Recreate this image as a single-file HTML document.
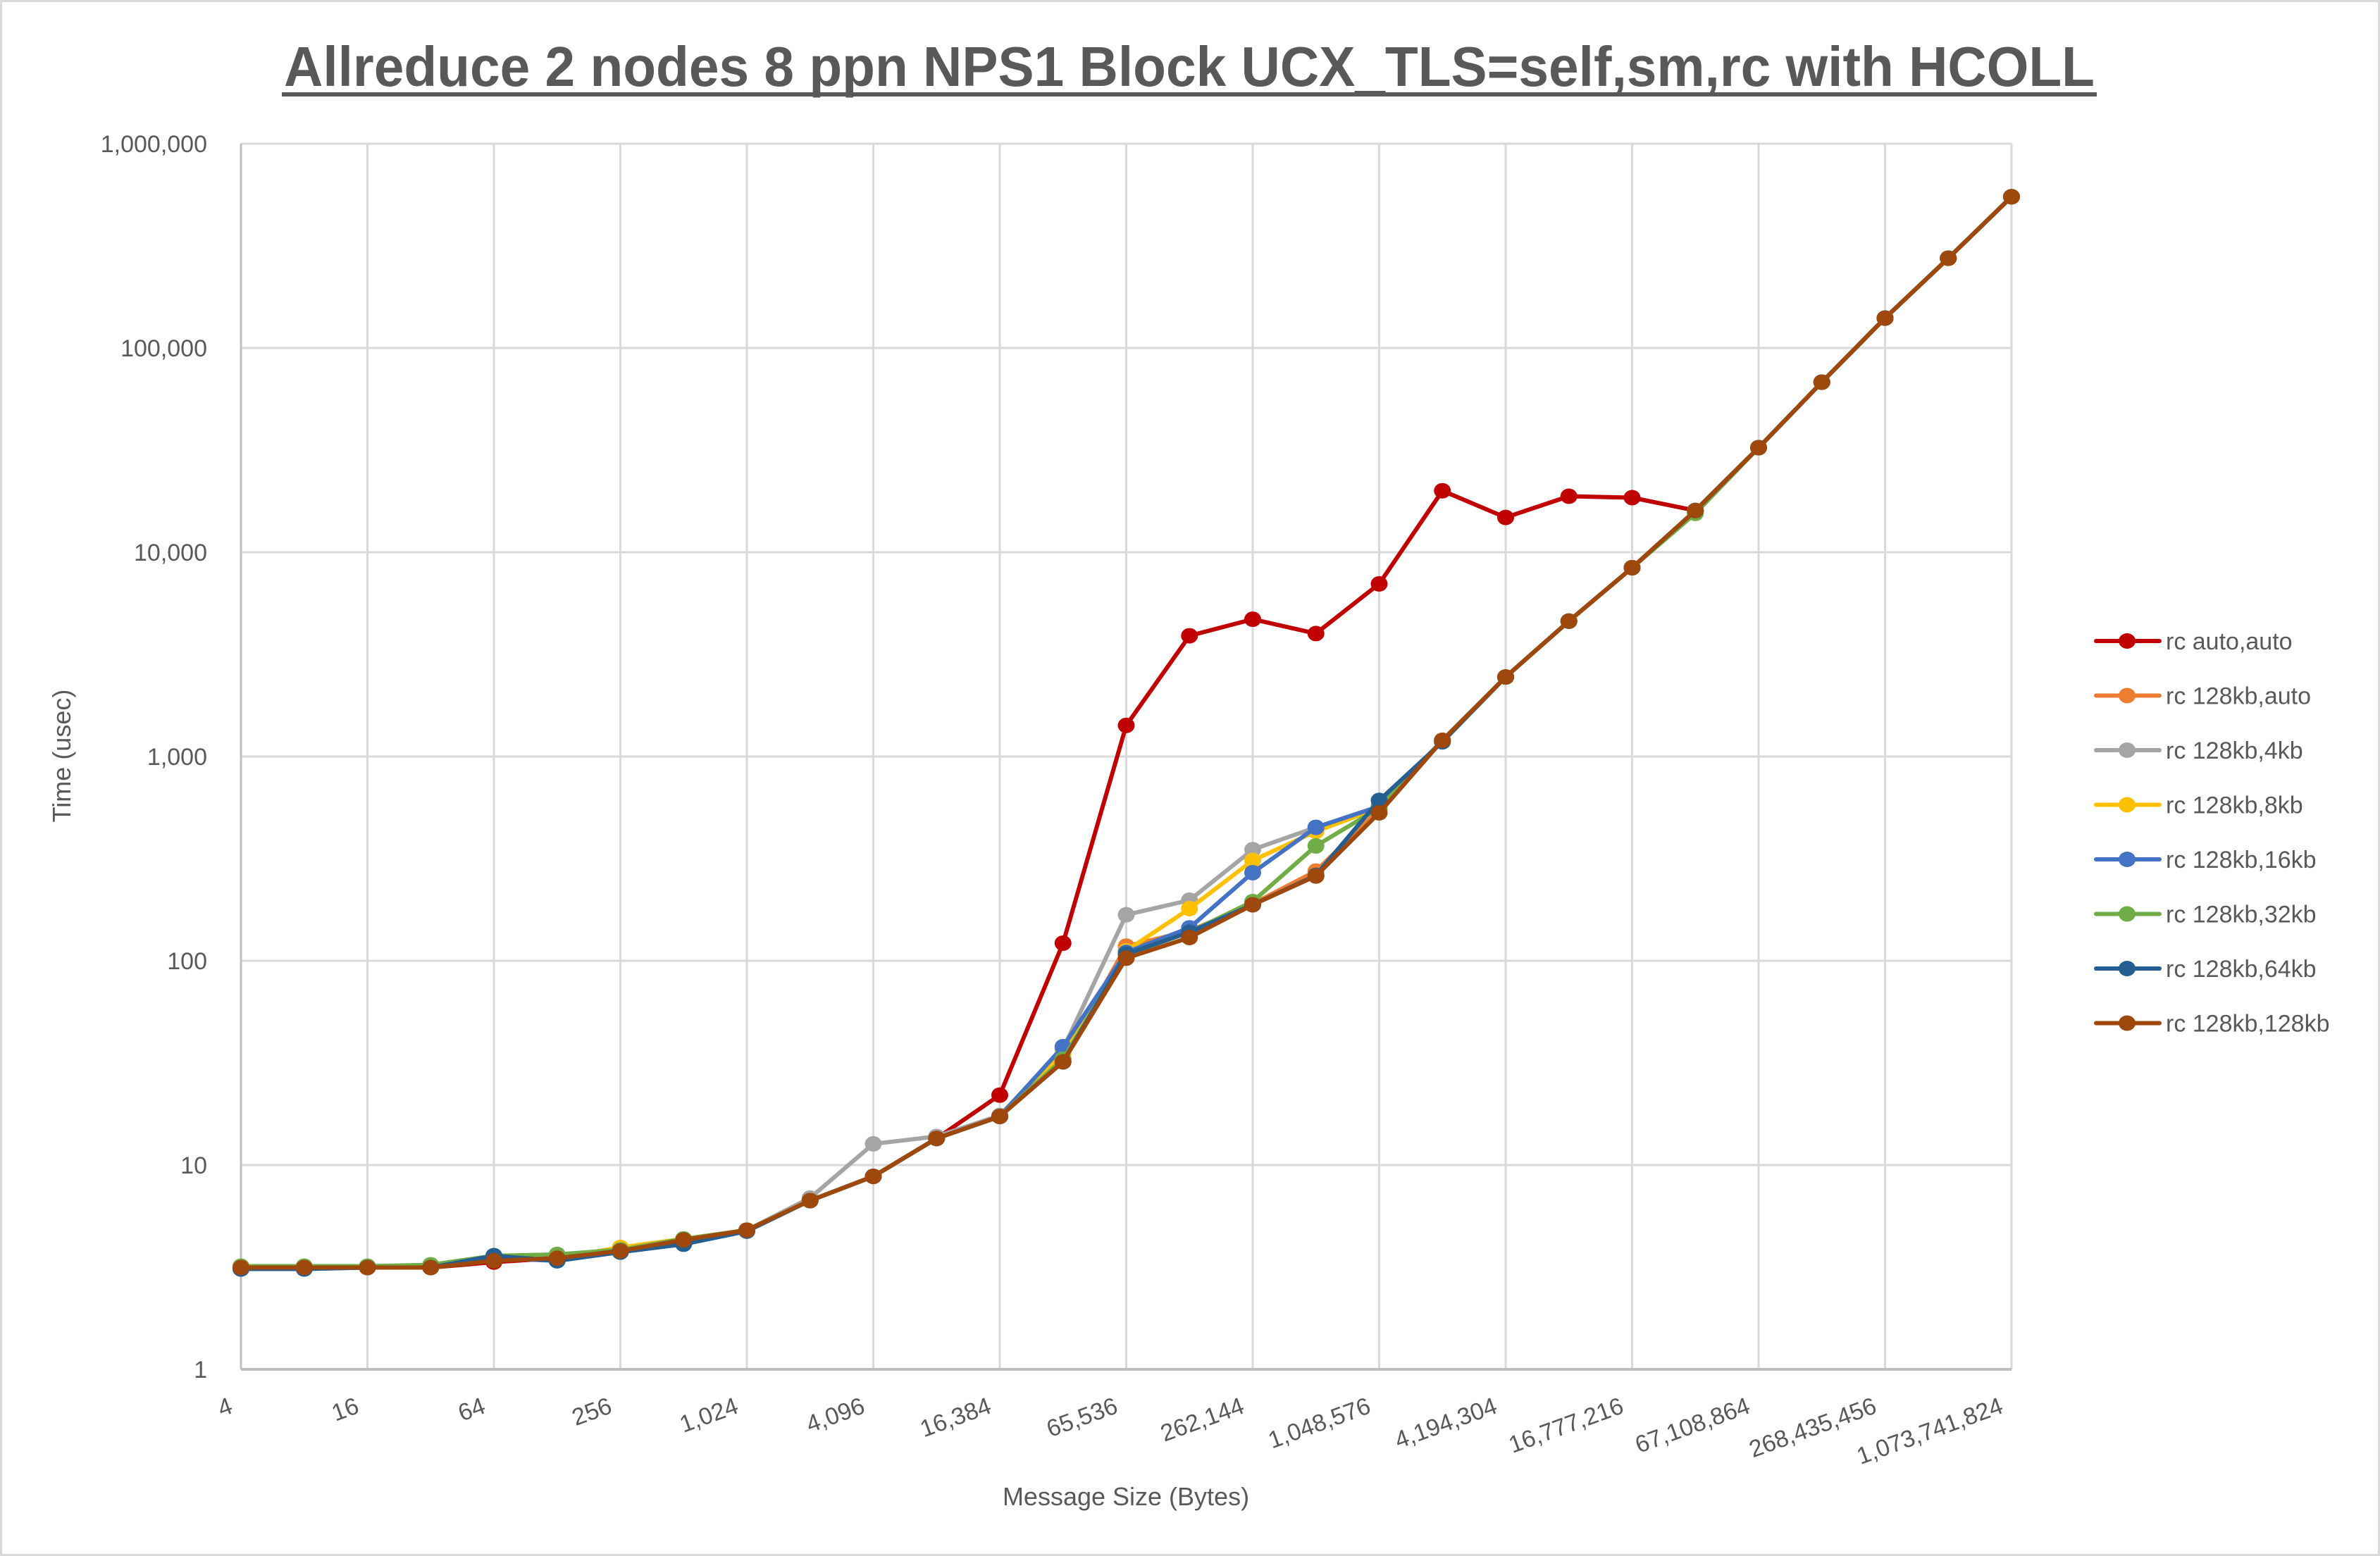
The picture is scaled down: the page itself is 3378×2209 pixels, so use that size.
<!DOCTYPE html>
<html><head><meta charset="utf-8"><style>
html,body{margin:0;padding:0;background:#fff}
svg{display:block;font-family:"Liberation Sans",sans-serif}
</style></head><body>
<svg id="chart" width="3378" height="2209" viewBox="0 0 3378 2209" xmlns="http://www.w3.org/2000/svg">
<rect x="1.5" y="1.5" width="3375" height="2206" fill="#fff" stroke="#d9d9d9" stroke-width="3"/>
<text x="1688" y="122" text-anchor="middle" font-size="80" font-weight="bold" fill="#595959" textLength="2570" lengthAdjust="spacingAndGlyphs">Allreduce 2 nodes 8 ppn NPS1 Block UCX_TLS=self,sm,rc with HCOLL</text>
<rect x="400" y="131" width="2576" height="6" fill="#595959"/>
<g id="grid"></g>
<g id="axes"></g>
<g id="series"></g>
<g id="legend"></g>
<text transform="translate(100,1073) rotate(-90)" text-anchor="middle" font-size="36" fill="#595959">Time (usec)</text>
<text x="1598" y="2137" text-anchor="middle" font-size="36" fill="#595959">Message Size (Bytes)</text>
</svg>
<script>
const xExp = [2,3,4,5,6,7,8,9,10,11,12,13,14,15,16,17,18,19,20,21,22,23,24,25,26,27,28,29,30];
const yTicks = [1,10,100,1000,10000,100000,1000000];
const yTickLabels = ["1","10","100","1,000","10,000","100,000","1,000,000"];
const xTickLabels = ["4","16","64","256","1,024","4,096","16,384","65,536","262,144","1,048,576","4,194,304","16,777,216","67,108,864","268,435,456","1,073,741,824"];
const seriesNames = ["rc auto,auto","rc 128kb,auto","rc 128kb,4kb","rc 128kb,8kb","rc 128kb,16kb","rc 128kb,32kb","rc 128kb,64kb","rc 128kb,128kb"];
const seriesColors = ["#c00000","#ed7d31","#a5a5a5","#ffc000","#4472c4","#70ad47","#255e91","#9e480e"];
const sAutoAuto = [3.15,3.15,3.15,3.15,3.35,3.5,3.8,4.3,4.8,6.7,8.8,13.5,22,122,1420,3900,4700,4000,7000,20000,14800,18800,18500,16000,32500,68000,140000,275000,550000];
const s128Auto  = [3.15,3.15,3.15,3.15,3.45,3.5,3.95,4.35,4.8,6.7,8.8,13.5,17.3,33,118,140,190,275,550,1200,2450,4600,8400,16000,32500,68000,140000,275000,550000];
const s128k4    = [3.15,3.15,3.15,3.15,3.45,3.5,3.85,4.3,4.8,6.9,12.7,13.8,17.5,37,168,198,350,450,560,1200,2450,4600,8400,16000,32500,68000,140000,275000,550000];
const s128k8    = [3.15,3.15,3.15,3.15,3.6,3.5,3.95,4.35,4.8,6.7,8.8,13.5,17.3,35,112,180,310,430,560,1200,2450,4600,8400,16000,32500,68000,140000,275000,550000];
const s128k16   = [3.1,3.1,3.15,3.15,3.5,3.4,3.75,4.1,4.75,6.7,8.8,13.5,17.3,38,110,145,270,450,570,1200,2450,4600,8400,16000,32500,68000,140000,275000,550000];
const s128k32   = [3.2,3.2,3.2,3.25,3.6,3.65,3.85,4.35,4.8,6.7,8.8,13.5,17.3,33,107,138,195,365,560,1200,2450,4600,8400,15500,32500,68000,140000,275000,550000];
const s128k64   = [3.1,3.1,3.15,3.15,3.6,3.4,3.75,4.1,4.75,6.7,8.8,13.5,17.3,32,108,138,188,262,610,1180,2450,4600,8400,16000,32500,68000,140000,275000,550000];
const s128k128  = [3.15,3.15,3.15,3.15,3.4,3.5,3.8,4.3,4.8,6.7,8.8,13.5,17.3,32,103,130,188,260,530,1200,2450,4600,8400,16000,32500,68000,140000,275000,550000];
const allSeries = [sAutoAuto,s128Auto,s128k4,s128k8,s128k16,s128k32,s128k64,s128k128];

const NS="http://www.w3.org/2000/svg";
const X0=342, X1=2855, Y0=1944, Y1=204;
function xPos(e){return X0+(e-2)/28*(X1-X0);}
function yPos(v){return Y0-Math.log10(v)/6*(Y0-Y1);}
function mk(tag,attrs,parent){const el=document.createElementNS(NS,tag);for(const k in attrs)el.setAttribute(k,attrs[k]);parent.appendChild(el);return el;}

const grid=document.getElementById('grid');
for(let i=0;i<yTicks.length;i++){
  const y=yPos(yTicks[i]);
  const l=mk('line',{x1:X0,x2:X1,y1:y,y2:y,stroke:'#d9d9d9','stroke-width':3},grid);
  
  
  const t=mk('text',{x:294,y:y+12,'text-anchor':'end','font-size':34,fill:'#595959'},grid);
  t.textContent=yTickLabels[i];
  
  
}
for(let i=0;i<xTickLabels.length;i++){
  const x=xPos(2+2*i);
  const l=mk('line',{x1:x,x2:x,y1:Y1,y2:Y0,stroke:'#d9d9d9','stroke-width':3},grid);
  
  
  const t=mk('text',{transform:'translate('+(x-10)+',2005) rotate(-20)','text-anchor':'end','font-size':34,fill:'#595959'},grid);
  t.textContent=xTickLabels[i];
  
  
}
const axes=document.getElementById('axes');
const ax=mk('line',{x1:X0,x2:X1,y1:Y0,y2:Y0,stroke:'#bfbfbf','stroke-width':4},axes);


const ay=mk('line',{x1:X0,x2:X0,y1:Y1,y2:Y0,stroke:'#bfbfbf','stroke-width':3},axes);



const sg=document.getElementById('series');
for(let s=0;s<allSeries.length;s++){
  const g=mk('g',{},sg);
  
  
  const pts=allSeries[s].map((v,i)=>xPos(xExp[i]).toFixed(1)+','+yPos(v).toFixed(1)).join(' ');
  const pl=mk('polyline',{points:pts,fill:'none',stroke:seriesColors[s],'stroke-width':6,'stroke-linejoin':'round','stroke-linecap':'round'},g);
  
  
  allSeries[s].forEach((v,i)=>{
    const c=mk('ellipse',{cx:xPos(xExp[i]),cy:yPos(v),rx:12,ry:11,fill:seriesColors[s]},g);
    
    
  });
}
const lg=document.getElementById('legend');
for(let s=0;s<seriesNames.length;s++){
  const y=910+s*77.5;
  const g=mk('g',{},lg);
  
  
  mk('line',{x1:2975,x2:3065,y1:y,y2:y,stroke:seriesColors[s],'stroke-width':6,'stroke-linecap':'round'},g);
  mk('ellipse',{cx:3019,cy:y,rx:12,ry:11,fill:seriesColors[s]},g);
  const t=mk('text',{x:3074,y:y+12,'font-size':34,fill:'#595959'},g);
  t.textContent=seriesNames[s];
}
</script>
</body></html>
